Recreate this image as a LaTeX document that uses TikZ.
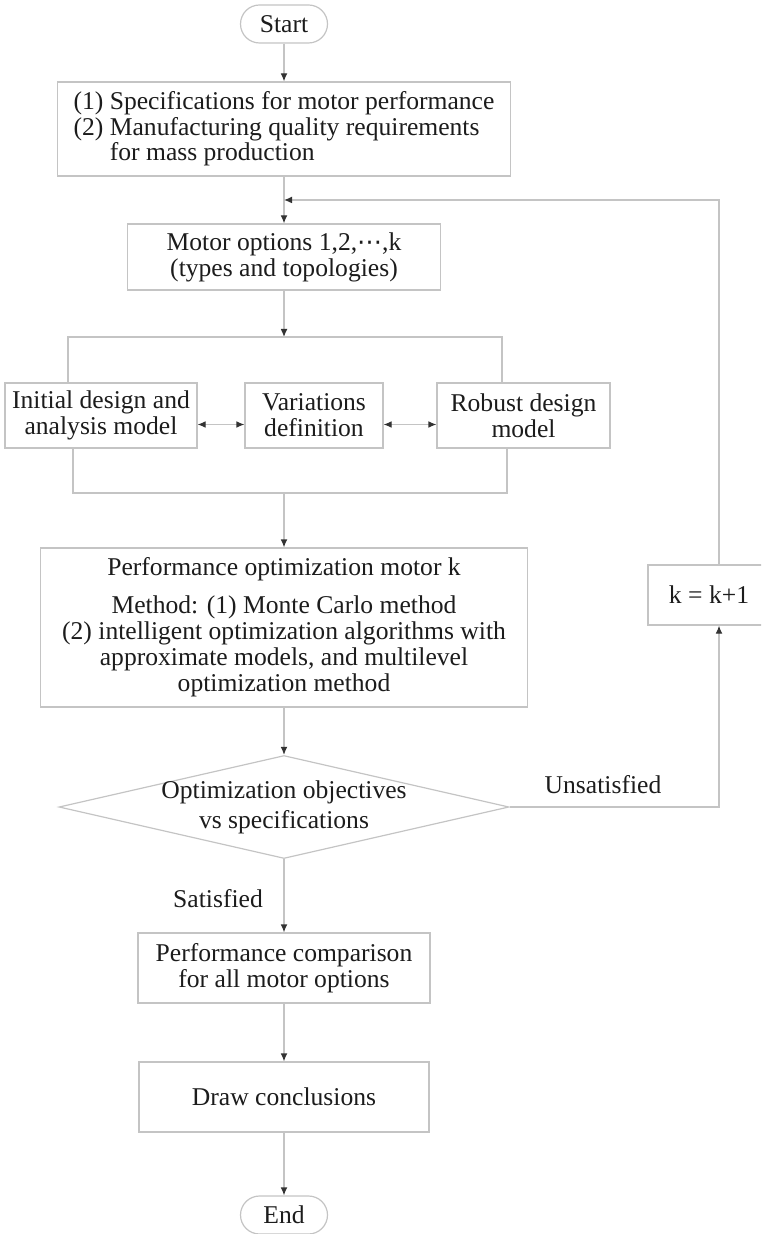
\documentclass[tikz,border=0pt]{standalone}
\usepackage{fontspec}
\setmainfont{Liberation Serif}
\newfontfamily\dotsfont{DejaVu Sans}
\usepackage{tikz}
\usetikzlibrary{positioning, arrows.meta, shapes.geometric, calc}
\definecolor{linegray}{RGB}{196,196,196}
\definecolor{inkgray}{RGB}{28,28,28}
\tikzset{
    block/.style={rectangle, draw=linegray, line width=0.6pt, fill=white, align=center, inner sep=0pt, text=inkgray, font=\fontsize{12.8pt}{13pt}\selectfont},
    term/.style={block, rounded corners=9.5pt, minimum width=43.5pt, minimum height=19pt},
    decision/.style={diamond, aspect=4.37, draw=linegray, line width=0.6pt, align=center, inner sep=-2pt, text=inkgray, font=\fontsize{12.8pt}{15pt}\selectfont},
    tag/.style={text=inkgray, font=\fontsize{12.8pt}{13pt}\selectfont, inner sep=0pt},
    conn/.style={draw=linegray, line width=0.6pt},
    arrow/.style={conn, -{Latex[length=4pt, width=3.4pt, color=black!80]}},
    twoway/.style={conn, {Latex[length=4pt, width=3.4pt, color=black!80]}-{Latex[length=4pt, width=3.4pt, color=black!80]}}
}

\begin{document}
\begin{tikzpicture}[x=0.5pt, y=-0.5pt]
    \useasboundingbox (0,0) rectangle (761,1234);
    \clip (0,0) rectangle (761,1234);

    % main column
    \node[term] (start) at (284,24) {Start};
    \node[block, minimum width=226.5pt, minimum height=47pt, align=left, font=\fontsize{12.8pt}{11pt}\selectfont] (spec) at (284,129)
        {(1) Specifications for motor performance\\(2) Manufacturing quality requirements\\\phantom{(2) }for mass production};
    \node[block, minimum width=156.5pt, minimum height=33pt] (motor) at (284,257) {Motor options 1,2,{\dotsfont\fontsize{12.5pt}{12.5pt}\selectfont ⋯},k\\(types and topologies)};

    % the three models side by side
    \node[block, minimum width=96pt, minimum height=32.5pt] (init) at (101,415.5) {Initial design and\\analysis model};
    \node[block, minimum width=69pt, minimum height=32.5pt] (vari) at (314,415.5) {Variations\\definition};
    \node[block, minimum width=86.5pt, minimum height=32.5pt] (robust) at (523.5,415.5) {Robust design\\model};

    \node[block, minimum width=243.5pt, minimum height=79.5pt] (perf) at (284,627.5)
        {Performance optimization motor k\\[6pt]Method: (1) Monte Carlo method\\(2) intelligent optimization algorithms with\\approximate models, and multilevel\\optimization method};
    \node[decision, minimum width=225pt, minimum height=51.5pt] (check) at (284,807) {Optimization objectives\\vs specifications};
    \node[block, minimum width=146pt, minimum height=35pt] (comp) at (284,968) {Performance comparison\\for all motor options};
    \node[block, minimum width=145pt, minimum height=35pt] (concl) at (284,1097) {Draw conclusions};
    \node[term] (end) at (284,1215) {End};

    % loop back
    \node[block, minimum width=61pt, minimum height=30pt] (inc) at (709,595) {k = k+1};
    \node[tag] (sat) at (218,899) {Satisfied};
    \node[tag] (unsat) at (603,785) {Unsatisfied};

    \coordinate (split) at (284,337);
    \coordinate (splitL) at (68,337);
    \coordinate (splitR) at (502,337);
    \coordinate (merge) at (284,493);
    \coordinate (mergeL) at (73,493);
    \coordinate (mergeR) at (507,493);
    \coordinate (turnB) at (719,807);
    \coordinate (turnT) at (719,200);
    \coordinate (back) at (284,200);

    \draw[arrow] (start) -- (spec);
    \draw[arrow] (spec) -- (motor);
    \draw[arrow] (motor) -- (split);
    \draw[conn] (splitL |- init.north) -- (splitL) -- (splitR) -- (splitR |- robust.north);
    \draw[twoway] ([yshift=-4.5pt]init.east) -- ([yshift=-4.5pt]vari.west);
    \draw[twoway] ([yshift=-4.5pt]vari.east) -- ([yshift=-4.5pt]robust.west);
    \draw[conn] (mergeL |- init.south) -- (mergeL) -- (mergeR) -- (mergeR |- robust.south);
    \draw[arrow] (merge) -- (perf);
    \draw[arrow] (perf) -- (check);
    \draw[arrow] (check) -- (comp);
    \draw[arrow] (comp) -- (concl);
    \draw[arrow] (concl) -- (end);
    \draw[arrow] (check.east) -- (turnB) -- (turnB |- inc.south);
    \draw[arrow] (turnT |- inc.north) -- (turnT) -- (back);
\end{tikzpicture}
\end{document}
